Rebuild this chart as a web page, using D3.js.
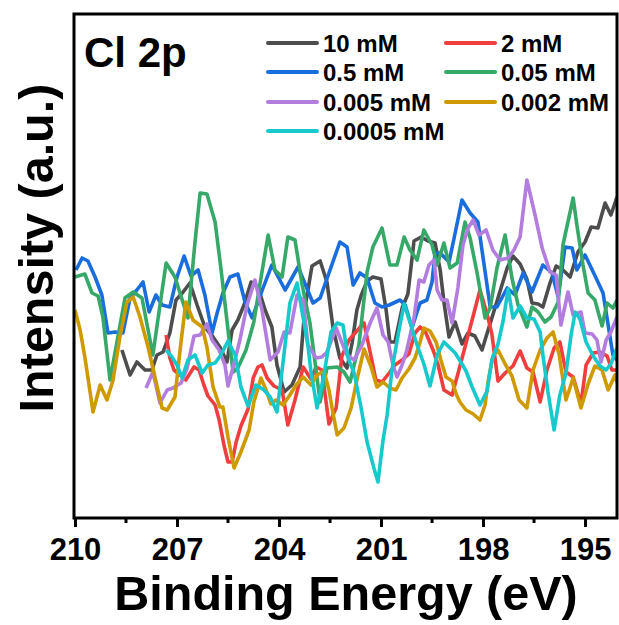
<!DOCTYPE html>
<html>
<head>
<meta charset="utf-8">
<script src="https://cdn.jsdelivr.net/npm/d3@7"></script>
<style>
  html, body { margin: 0; padding: 0; background: #fff; }
  svg { display: block; }
  text { font-family: Arial, "Liberation Sans", sans-serif; font-weight: bold; fill: #000; }
</style>
</head>
<body>
<svg id="chart" width="619" height="625"></svg>
<script>
// Cl 2p XPS spectra, binding energy (eV) vs intensity (counts, a.u.)
const xTicks = [210, 207, 204, 201, 198, 195];

const s10mM = [[208.62,1680],[208.38,1430],[208.18,1560],[207.94,1480],[207.74,1480],[207.59,1630],[207.41,1660],[207.21,1850],[207.03,2180],[206.82,2260],[206.62,2350],[206.41,2130],[206.18,1910],[205.94,1810],[205.74,1710],[205.53,1560],[205.38,1880],[205.21,1980],[205.03,2130],[204.82,2360],[204.62,2310],[204.41,2080],[204.21,1910],[204.06,1530],[203.85,1260],[203.62,1330],[203.38,1510],[203.24,2100],[203.03,2520],[202.79,2570],[202.59,2360],[202.41,1900],[202.21,1600],[202.00,1500],[201.85,1750],[201.71,2080],[201.59,2220],[201.41,2370],[201.24,2410],[201.00,2390],[200.85,2080],[200.74,1760],[200.59,1760],[200.38,2100],[200.21,2240],[200.03,2770],[199.82,2810],[199.62,2770],[199.41,2750],[199.26,2480],[199.15,2160],[199.00,1810],[198.82,1960],[198.62,1740],[198.44,1850],[198.24,1820],[198.03,1680],[197.85,1880],[197.65,2100],[197.47,2300],[197.29,2500],[197.12,2620],[196.91,2540],[196.71,2390],[196.56,2150],[196.38,2140],[196.24,2110],[196.03,2350],[195.85,2520],[195.65,2480],[195.44,2410],[195.21,2660],[195.00,2760],[194.82,2910],[194.62,2900],[194.41,3150],[194.24,3030],[194.06,3210]];

const s2mM = [[207.32,1830],[207.21,1600],[207.09,1480],[206.91,1430],[206.74,1380],[206.50,1510],[206.35,1480],[206.21,1330],[206.09,1220],[205.88,1130],[205.76,980],[205.62,730],[205.50,560],[205.38,560],[205.26,760],[205.12,920],[204.91,1090],[204.76,1400],[204.62,1510],[204.50,1530],[204.35,1400],[204.15,1320],[203.91,1280],[203.74,930],[203.53,1180],[203.29,1510],[203.06,1390],[202.91,1510],[202.74,1480],[202.53,940],[202.32,1100],[202.15,1620],[201.94,1780],[201.74,1860],[201.50,1950],[201.32,1660],[201.15,1380],[200.97,1360],[200.76,1450],[200.59,1530],[200.38,1580],[200.18,1640],[200.00,1850],[199.85,1910],[199.68,1850],[199.47,1680],[199.32,1530],[199.15,1280],[198.91,1230],[198.74,1440],[198.53,1710],[198.29,2020],[198.09,2280],[197.88,2040],[197.74,1840],[197.56,1370],[197.35,1450],[197.12,1520],[196.91,1670],[196.71,1500],[196.53,1460],[196.32,1160],[196.12,1480],[195.91,1700],[195.74,1760],[195.56,1460],[195.35,1410],[195.12,1140],[194.97,1530],[194.76,1650],[194.56,1660],[194.35,1620],[194.21,1480],[194.06,1480]];

const s05mM = [[209.97,2480],[209.79,2600],[209.62,2570],[209.41,2410],[209.21,2230],[209.03,1850],[208.82,1860],[208.59,1850],[208.38,2200],[208.18,2280],[208.00,2360],[207.82,2060],[207.62,2230],[207.44,2130],[207.21,2110],[207.00,2410],[206.79,2620],[206.59,2420],[206.38,2480],[206.18,2230],[205.97,1850],[205.82,2050],[205.65,2250],[205.44,2410],[205.21,2440],[205.00,2160],[204.79,2000],[204.47,2300],[204.21,2530],[203.82,2280],[203.44,2510],[203.00,2150],[202.79,2200],[202.21,2760],[202.00,2710],[201.82,2330],[201.62,2450],[201.41,2400],[201.18,2150],[200.97,2110],[200.76,2130],[200.44,2180],[200.29,2130],[200.09,1900],[199.94,2060],[199.85,2150],[199.65,2180],[199.50,2360],[199.41,2650],[199.26,2650],[199.00,2560],[198.85,2800],[198.62,3180],[198.38,3050],[198.15,2960],[197.79,2110],[197.59,2110],[197.29,2300],[197.06,2230],[196.82,2450],[196.56,2260],[196.24,2530],[195.97,2450],[195.79,2210],[195.59,2710],[195.38,2700],[195.24,2480],[195.00,2630],[194.76,2460],[194.47,2250],[194.32,1930],[194.18,1630],[194.06,1580]];

const s005mM = [[210.00,2410],[209.71,2440],[209.50,2250],[209.32,2220],[209.18,2010],[208.97,1380],[208.53,2200],[208.29,2260],[208.03,2200],[207.71,1630],[207.50,2130],[207.32,2550],[207.06,2410],[206.68,2000],[206.47,2760],[206.32,3250],[206.12,3240],[205.88,2960],[205.71,2500],[205.50,1880],[205.35,1460],[205.21,1500],[204.97,1680],[204.74,1960],[204.59,2280],[204.32,2830],[204.12,2480],[203.91,2410],[203.74,2810],[203.53,2780],[203.32,2330],[203.09,1950],[202.79,1160],[202.59,1500],[202.29,1510],[202.09,1460],[201.91,1360],[201.65,1730],[201.41,2460],[201.24,2710],[200.97,2900],[200.74,2530],[200.53,2530],[200.32,2810],[200.15,2680],[199.94,2580],[199.74,2880],[199.50,2730],[199.35,2530],[199.15,2750],[198.97,2500],[198.76,2550],[198.53,2960],[198.38,2800],[198.18,2460],[197.94,2000],[197.79,2100],[197.59,2500],[197.35,2830],[197.15,2400],[196.97,2130],[196.71,1910],[196.56,2110],[196.38,2060],[196.18,1960],[196.00,2010],[195.79,2160],[195.65,2730],[195.35,3200],[195.24,2930],[195.06,2530],[194.91,2250],[194.71,2180],[194.50,1920],[194.35,2150],[194.18,2100],[194.06,2180]];

const s0005mM = [[207.91,1300],[207.71,1460],[207.50,1150],[207.29,1280],[207.12,1300],[206.88,1350],[206.71,1490],[206.50,1820],[206.32,1830],[206.12,1940],[205.97,1780],[205.76,1680],[205.59,1530],[205.50,1320],[205.35,1510],[205.15,1780],[204.94,2130],[204.71,2380],[204.50,2080],[204.26,1580],[204.03,1660],[203.85,1860],[203.68,1850],[203.47,2230],[203.29,2180],[203.15,1730],[202.91,1600],[202.74,1610],[202.59,1660],[202.32,1900],[202.18,1780],[202.00,1630],[201.79,1580],[201.56,1730],[201.32,1950],[201.12,2100],[200.94,1830],[200.79,1760],[200.65,1530],[200.53,1410],[200.38,1530],[200.24,1680],[200.03,2000],[199.88,2380],[199.74,2360],[199.59,2530],[199.44,2580],[199.35,2280],[199.21,2180],[199.06,2180],[198.91,1950],[198.74,2300],[198.59,2730],[198.44,2900],[198.29,2980],[198.12,2830],[197.91,2880],[197.71,2680],[197.50,2580],[197.26,2600],[197.09,2680],[196.91,2810],[196.71,3380],[196.47,3030],[196.26,2700],[196.03,2460],[195.85,2430],[195.71,1930],[195.50,2260],[195.35,2030],[195.12,2060],[195.00,1850],[194.79,1840],[194.65,1780],[194.53,1560],[194.38,1780],[194.24,1860],[194.06,2010]];

const s0002mM = [[210.00,2080],[209.85,1880],[209.71,1610],[209.47,1060],[209.26,1330],[209.06,1180],[208.88,1380],[208.68,1810],[208.47,2160],[208.29,2210],[208.09,2010],[207.85,1710],[207.65,1410],[207.44,1100],[207.29,1080],[207.06,1210],[206.91,1680],[206.74,2160],[206.53,1980],[206.26,1910],[206.12,1710],[205.94,1310],[205.74,1110],[205.65,1110],[205.50,810],[205.32,500],[205.12,660],[204.88,880],[204.74,1160],[204.53,1400],[204.38,1280],[204.24,1140],[204.09,1180],[203.88,1130],[203.68,1230],[203.50,1330],[203.29,1410],[203.06,1330],[202.88,1430],[202.68,1470],[202.53,1280],[202.44,1100],[202.29,830],[202.09,900],[201.88,1100],[201.71,1380],[201.50,1690],[201.29,1510],[201.12,1310],[200.94,1360],[200.74,1300],[200.56,1280],[200.38,1400],[200.18,1490],[200.00,1600],[199.85,1760],[199.74,1900],[199.56,1870],[199.38,1760],[199.24,1580],[199.09,1410],[198.91,1370],[198.79,1240],[198.68,1160],[198.50,1080],[198.29,1040],[198.09,980],[197.94,1130],[197.85,1370],[197.71,1620],[197.56,1680],[197.35,1540],[197.15,1420],[196.94,1180],[196.71,1100],[196.53,1480],[196.32,1680],[196.12,1800],[195.94,1860],[195.76,1630],[195.56,1180],[195.35,1400],[195.12,1100],[194.91,1340],[194.71,1520],[194.50,1480],[194.32,1280],[194.12,1430],[194.06,1360]];

const s00005mM = [[207.32,1680],[207.15,1610],[207.00,1530],[206.85,1400],[206.68,1580],[206.47,1630],[206.26,1450],[206.09,1530],[205.88,1550],[205.71,1630],[205.50,1770],[205.29,1630],[205.12,1310],[204.91,1120],[204.68,1330],[204.44,1280],[204.26,1210],[204.06,1060],[203.88,1560],[203.68,2150],[203.47,2350],[203.32,2060],[203.15,1730],[203.06,1460],[202.88,1100],[202.68,1430],[202.47,1860],[202.29,1950],[202.12,1930],[201.97,1600],[201.79,1450],[201.59,1110],[201.41,760],[201.21,500],[201.09,360],[200.94,780],[200.82,1030],[200.68,1480],[200.47,1880],[200.32,2140],[200.15,1960],[199.94,1730],[199.74,1540],[199.56,1320],[199.35,1630],[199.15,1760],[198.97,1700],[198.82,1650],[198.62,1540],[198.50,1470],[198.32,1310],[198.09,1130],[197.88,1270],[197.74,1580],[197.56,1740],[197.41,1970],[197.26,2290],[197.12,2000],[196.91,2120],[196.71,2000],[196.50,1990],[196.32,1860],[196.24,1630],[196.09,1260],[195.91,880],[195.74,1230],[195.56,1450],[195.41,1830],[195.29,2060],[195.15,1990],[194.97,1760],[194.76,1620],[194.56,1520],[194.38,1480],[194.24,1540],[194.06,1700]];

const seriesNames = ["10 mM", "2 mM", "0.5 mM", "0.05 mM", "0.005 mM", "0.002 mM", "0.0005 mM"];
const seriesData = [s10mM, s2mM, s05mM, s005mM, s0005mM, s0002mM, s00005mM];
const seriesColors = ["#4d4d4d", "#f03e3e", "#1a6ddc", "#36a868", "#b27ddf", "#cf9a00", "#17c9cc"];

const svg = d3.select("#chart");
const frame = { left: 74, right: 617, top: 14, bottom: 518 };

const x = d3.scaleLinear().domain([210, 194.06]).range([frame.left + 1, frame.right]);
const y = d3.scaleLinear().domain([0, 5040]).range([frame.bottom, frame.top]);

svg.append("defs").append("clipPath").attr("id", "plotClip")
  .append("rect")
  .attr("x", frame.left).attr("y", frame.top)
  .attr("width", frame.right - frame.left).attr("height", frame.bottom - frame.top);

// spectra
const line = d3.line().x(d => x(d[0])).y(d => y(d[1]));
const plot = svg.append("g").attr("clip-path", "url(#plotClip)");
seriesData.forEach((s, i) => {
  plot.append("path")
    .datum(s)
    .attr("d", line)
    .attr("fill", "none")
    .attr("stroke", seriesColors[i])
    .attr("stroke-width", 3.6)
    .attr("stroke-linejoin", "round");
});

// frame
svg.append("rect")
  .attr("x", frame.left).attr("y", frame.top)
  .attr("width", frame.right - frame.left).attr("height", frame.bottom - frame.top)
  .attr("fill", "none").attr("stroke", "#000").attr("stroke-width", 3);

// bottom axis: major ticks with labels, minor ticks in between
const xAxis = d3.axisBottom(x).tickValues(xTicks).tickSize(9).tickSizeOuter(0).tickFormat(d3.format("d"));
const gx = svg.append("g").attr("transform", `translate(0,${frame.bottom})`).call(xAxis);
gx.select(".domain").remove();
gx.selectAll(".tick line").attr("stroke-width", 3);
gx.selectAll(".tick text")
  .attr("y", 20)
  .attr("dy", "0.71em")
  .style("font-size", "31px")
  .style("font-family", "Arial, 'Liberation Sans', sans-serif")
  .style("font-weight", "bold");

const minor = d3.range(208.5, 194, -3);
svg.append("g").selectAll("line").data(minor).join("line")
  .attr("x1", d => x(d)).attr("x2", d => x(d))
  .attr("y1", frame.bottom).attr("y2", frame.bottom + 5)
  .attr("stroke", "#000").attr("stroke-width", 3);

// axis titles
svg.append("text")
  .attr("x", 346).attr("y", 610)
  .attr("text-anchor", "middle")
  .style("font-size", "48.5px")
  .text("Binding Energy (eV)");

svg.append("text")
  .attr("transform", "translate(53,248) rotate(-90)")
  .attr("text-anchor", "middle")
  .style("font-size", "48.5px")
  .text("Intensity (a.u.)");

// panel label
svg.append("text")
  .attr("x", 84).attr("y", 67)
  .style("font-size", "42px")
  .text("Cl 2p");

// legend, two columns
const legendCols = [268, 446];
const legendRows = [43, 72, 102, 131];
const legendOrder = [[0, 0, 0], [1, 1, 0], [2, 0, 1], [3, 1, 1], [4, 0, 2], [5, 1, 2], [6, 0, 3]];
const legend = svg.append("g");
legendOrder.forEach(([idx, c, r]) => {
  const lx = legendCols[c], ly = legendRows[r];
  legend.append("line")
    .attr("x1", lx).attr("x2", lx + 49)
    .attr("y1", ly).attr("y2", ly)
    .attr("stroke", seriesColors[idx]).attr("stroke-width", 4)
    .attr("stroke-linecap", "round");
  legend.append("text")
    .attr("x", lx + 55).attr("y", ly + 8.5)
    .style("font-size", "24px")
    .text(seriesNames[idx]);
});
</script>
</body>
</html>
